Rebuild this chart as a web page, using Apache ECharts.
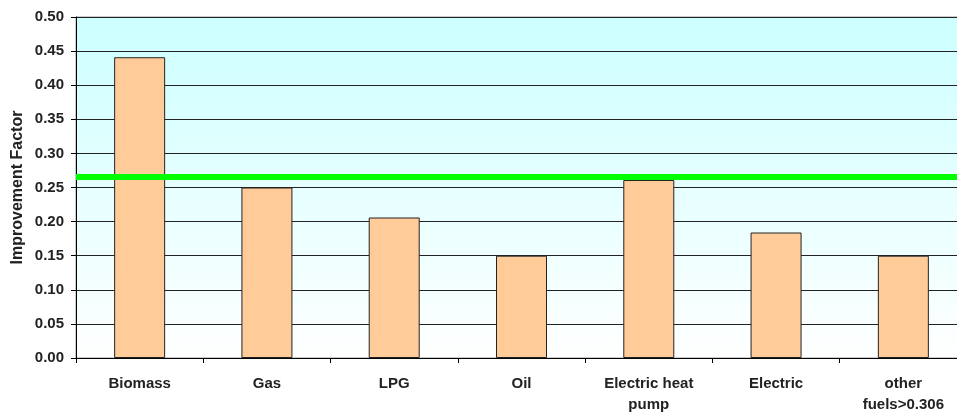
<!DOCTYPE html>
<html>
<head>
<meta charset="utf-8">
<script src="https://cdn.jsdelivr.net/npm/echarts@6/dist/echarts.min.js"></script>
<style>
  html, body { margin: 0; padding: 0; background: #fff; }
  #chart { width: 957px; height: 414px; }
</style>
</head>
<body>
<div id="chart"></div>
<script>
const categories = ['Biomass', 'Gas', 'LPG', 'Oil', 'Electric heat\npump', 'Electric', 'other\nfuels>0.306']
const factors = [0.441, 0.25, 0.206, 0.15, 0.261, 0.184, 0.15]
const targetLevel = 0.266

const fontColor = '#222'
const myChart = echarts.init(document.getElementById('chart'))

// the plot runs a little past the right edge of the picture, as in the original
myChart.setOption({
  animation: false,
  grid: {
    top: 17,
    left: 76,
    right: -10,
    bottom: 56,
    outerBoundsMode: 'none',
    containLabel: false,
    show: true,
    borderColor: '#999',
    borderWidth: 1,
    backgroundColor: {
      type: 'linear', x: 0, y: 0, x2: 0, y2: 1,
      colorStops: [{offset: 0, color: '#CCFFFF'}, {offset: 1, color: '#FFFFFF'}]
    }
  },
  xAxis: {
    type: 'category',
    data: categories,
    axisLine: {lineStyle: {color: '#000', width: 1}},
    axisTick: {show: true, length: 5, lineStyle: {color: '#000'}},
    axisLabel: {
      color: fontColor,
      fontFamily: 'Liberation Sans',
      fontWeight: 'bold',
      fontSize: 15,
      margin: 15,
      lineHeight: 21,
      interval: 0
    }
  },
  yAxis: {
    type: 'value',
    min: 0,
    max: 0.5,
    interval: 0.05,
    name: 'Improvement Factor',
    nameLocation: 'middle',
    nameGap: 50,
    nameMoveOverlap: false,
    nameTextStyle: {
      color: fontColor,
      fontFamily: 'Liberation Sans',
      fontWeight: 'bold',
      fontSize: 16
    },
    axisLine: {show: true, lineStyle: {color: '#000'}},
    axisTick: {show: true, length: 5, lineStyle: {color: '#000'}},
    axisLabel: {
      color: fontColor,
      fontFamily: 'Liberation Sans',
      fontWeight: 'bold',
      fontSize: 15,
      margin: 12,
      formatter: value => value.toFixed(2)
    },
    splitLine: {lineStyle: {color: '#222', width: 1}}
  },
  series: [{
    type: 'bar',
    data: factors,
    barWidth: 51,
    itemStyle: {color: '#FFCC99', borderColor: '#222', borderWidth: 1},
    markLine: {
      silent: true,
      symbol: 'none',
      precision: 3,
      label: {show: false},
      lineStyle: {color: '#00FF00', width: 6, type: 'solid'},
      data: [{yAxis: targetLevel}]
    }
  }]
})
</script>
</body>
</html>
